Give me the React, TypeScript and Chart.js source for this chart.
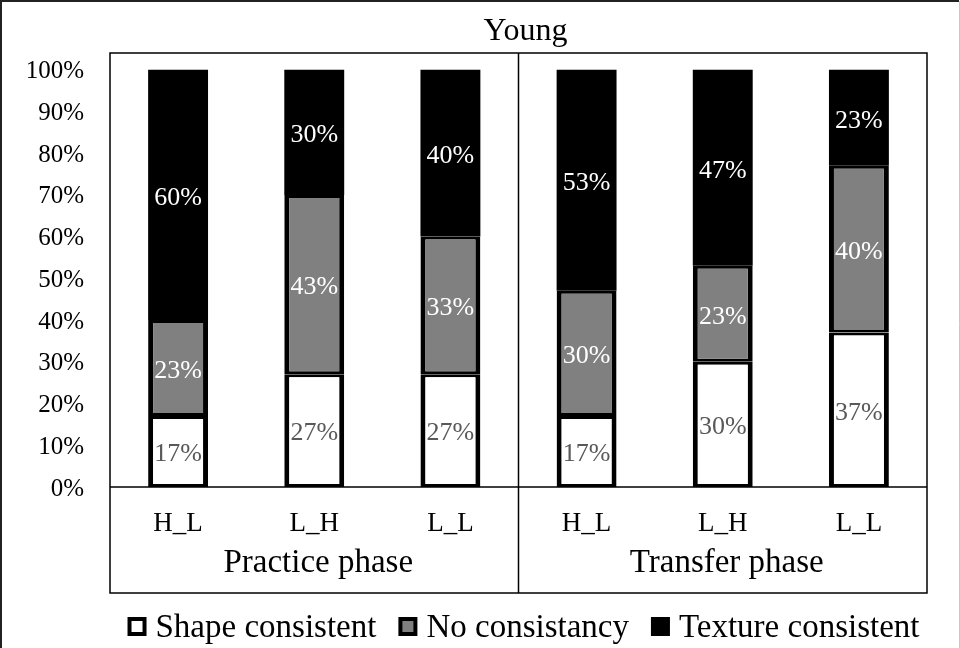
import React, { useEffect, useRef } from 'react';
import { Chart, registerables } from 'chart.js';

Chart.register(...registerables);

const chartTitle = 'Young';
const categories = ['H_L', 'L_H', 'L_L', 'H_L', 'L_H', 'L_L'];
const groups = ['Practice phase', 'Transfer phase'];
const groupSize = 3;
const seriesNames = ['Shape consistent', 'No consistancy', 'Texture consistent'];
const shapeConsistent = [17, 27, 27, 17, 30, 37];
const noConsistancy = [23, 43, 33, 30, 23, 40];
const textureConsistent = [60, 30, 40, 53, 47, 23];
const yTickValues = [0, 10, 20, 30, 40, 50, 60, 70, 80, 90, 100];

const FONT = '"Liberation Serif", "Times New Roman", serif';
const fills = ['#ffffff', '#808080', '#000000'];
const labelColors = ['#595959', '#ffffff', '#ffffff'];

const bgPlugin = {
  id: 'bg',
  beforeDraw(chart: any) {
    const { ctx, width, height } = chart;
    ctx.save();
    ctx.fillStyle = '#ffffff';
    ctx.fillRect(0, 0, width, height);
    ctx.restore();
  },
};

const dataLabelPlugin = {
  id: 'dataLabels',
  afterDatasetsDraw(chart: any) {
    const { ctx } = chart;
    ctx.save();
    ctx.font = `26px ${FONT}`;
    ctx.textAlign = 'center';
    ctx.textBaseline = 'middle';
    chart.data.datasets.forEach((ds: any, di: number) => {
      const meta = chart.getDatasetMeta(di);
      meta.data.forEach((el: any, i: number) => {
        const { x, y, base } = el.getProps(['x', 'y', 'base'], true);
        ctx.fillStyle = labelColors[di];
        ctx.fillText(`${ds.data[i]}%`, x, (y + base) / 2 + 3);
      });
    });
    ctx.restore();
  },
};

const framePlugin = {
  id: 'frame',
  afterDraw(chart: any) {
    const { ctx, chartArea, scales, width } = chart;
    const xs = scales.x;
    const left = chartArea.left;
    const right = chartArea.right;
    const top = chartArea.top;
    const bottom = xs.bottom;
    const cx = (left + right) / 2;
    ctx.save();
    // outer border
    ctx.strokeStyle = '#222222';
    ctx.lineWidth = 2;
    ctx.beginPath();
    ctx.moveTo(1, chart.height);
    ctx.lineTo(1, 1);
    ctx.lineTo(width - 1, 1);
    ctx.stroke();
    ctx.strokeStyle = '#c8c8c8';
    ctx.lineWidth = 1;
    ctx.beginPath();
    ctx.moveTo(width - 0.5, 1);
    ctx.lineTo(width - 0.5, chart.height);
    ctx.stroke();

    // plot frame
    ctx.strokeStyle = '#000000';
    ctx.lineWidth = 1.5;
    ctx.strokeRect(left, top, right - left, bottom - top);
    ctx.beginPath();
    ctx.moveTo(left, chartArea.bottom);
    ctx.lineTo(right, chartArea.bottom);
    for (let g = 1; g < groups.length; g++) {
      const xd = (xs.getPixelForValue(g * groupSize - 1) + xs.getPixelForValue(g * groupSize)) / 2;
      ctx.moveTo(xd, top);
      ctx.lineTo(xd, bottom);
    }
    ctx.stroke();

    // title
    ctx.fillStyle = '#000000';
    ctx.textAlign = 'center';
    ctx.textBaseline = 'alphabetic';
    ctx.font = `32px ${FONT}`;
    ctx.fillText(chartTitle, cx + 7, 40);

    // group labels
    ctx.font = `33px ${FONT}`;
    groups.forEach((g, gi) => {
      let s = 0;
      for (let k = 0; k < groupSize; k++) s += xs.getPixelForValue(gi * groupSize + k);
      ctx.fillText(g, s / groupSize + 4, 572);
    });

    // legend
    ctx.font = `33px ${FONT}`;
    const box = 19;
    const boxGap = 9;
    const itemGap = 22;
    const widths = seriesNames.map((n) => ctx.measureText(n).width);
    const total = widths.reduce((a, w) => a + box + boxGap + w, 0) + itemGap * (seriesNames.length - 1);
    let lx = cx + 5 - total / 2;
    const baseline = 637;
    ctx.textAlign = 'left';
    seriesNames.forEach((n, i) => {
      const by = 617;
      ctx.fillStyle = '#000000';
      ctx.fillRect(lx, by, box, box);
      ctx.fillStyle = fills[i];
      ctx.fillRect(lx + 4, by + 4, box - 8, box - 8);
      ctx.fillStyle = '#000000';
      ctx.fillText(n, lx + box + boxGap, baseline);
      lx += box + boxGap + widths[i] + itemGap;
    });
    ctx.restore();
  },
};

export default function App() {
  const ref = useRef<HTMLCanvasElement | null>(null);

  useEffect(() => {
    document.body.style.margin = '0';
    const canvas = ref.current;
    if (!canvas) return;
    const seriesData = [shapeConsistent, noConsistancy, textureConsistent];
    const chart = new Chart(canvas, {
      type: 'bar',
      data: {
        labels: categories,
        datasets: seriesNames.map((name, i) => ({
          label: name,
          data: seriesData[i],
          backgroundColor: fills[i],
          borderColor: '#000000',
          borderWidth: i === 2 ? 0 : { left: 5, right: 5, top: 3, bottom: 3 },
          borderSkipped: false,
          barPercentage: 0.44,
          categoryPercentage: 1.0,
        })),
      },
      options: {
        animation: false,
        responsive: false,
        devicePixelRatio: 1,
        layout: { padding: { top: 53, bottom: 55, left: 0, right: 33 } },
        plugins: {
          legend: { display: false },
          title: { display: false },
          tooltip: { enabled: false },
        },
        scales: {
          x: {
            stacked: true,
            grid: { display: false },
            border: { display: false },
            ticks: {
              color: '#000000',
              font: { family: FONT, size: 27 },
              padding: 13,
              maxRotation: 0,
              autoSkip: false,
            },
            afterFit: (scale: any) => {
              scale.height = 106;
            },
          },
          y: {
            stacked: true,
            min: 0,
            max: 104,
            grid: { display: false },
            border: { display: false },
            ticks: {
              color: '#000000',
              font: { family: FONT, size: 25 },
              padding: 18,
              labelOffset: 2,
              callback: (v: any) => `${v}%`,
            },
            afterBuildTicks: (axis: any) => {
              axis.ticks = yTickValues.map((v) => ({ value: v }));
            },
            afterFit: (scale: any) => {
              scale.width = 110;
            },
          },
        },
      },
      plugins: [bgPlugin, dataLabelPlugin, framePlugin],
    });
    return () => chart.destroy();
  }, []);

  return (
    <div style={{ width: 960, height: 648 }}>
      <canvas ref={ref} width={960} height={648} style={{ display: 'block' }} />
    </div>
  );
}
